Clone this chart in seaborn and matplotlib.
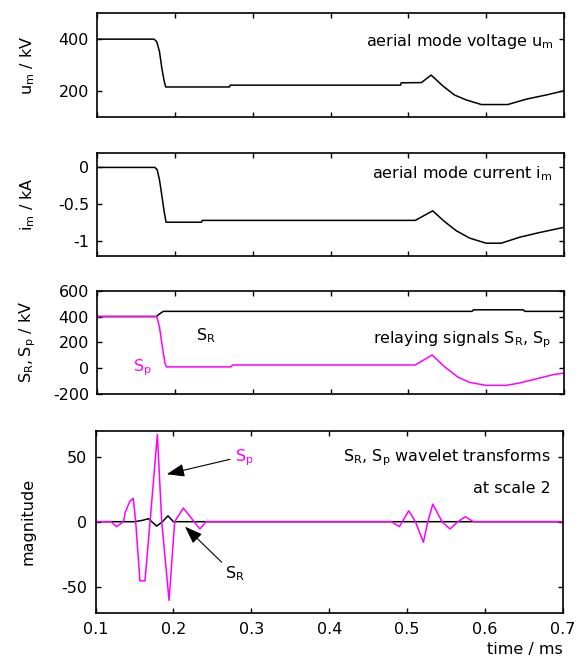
import matplotlib
matplotlib.use("Agg")
import matplotlib.pyplot as plt
import seaborn as sns
import pandas as pd

# aerial mode voltage u_m (kV)
um_t = [0.100, 0.173, 0.1765, 0.180, 0.183, 0.186, 0.188, 0.270, 0.271, 0.490, 0.491,
        0.517, 0.5295, 0.5445, 0.5595, 0.5745, 0.594, 0.628, 0.652, 0.6775, 0.700]
um_v = [400, 400, 390, 352, 288, 238, 215, 215, 222, 222, 231,
        232, 261, 219, 184, 165, 147, 147, 168, 184, 200]

# aerial mode current i_m (kA)
im_t = [0.100, 0.174, 0.177, 0.180, 0.183, 0.186, 0.1885, 0.234, 0.235, 0.509,
        0.5315, 0.546, 0.5617, 0.5788, 0.600, 0.6196, 0.643, 0.669, 0.700]
im_v = [0, 0, -0.03, -0.17, -0.38, -0.60, -0.745, -0.745, -0.72, -0.72,
        -0.59, -0.73, -0.86, -0.96, -1.03, -1.03, -0.95, -0.885, -0.815]

# relaying signals S_R and S_p (kV)
sr_t = [0.100, 0.176, 0.180, 0.185, 0.582, 0.584, 0.648, 0.650, 0.700]
sr_v = [400, 400, 420, 440, 440, 452, 452, 440, 440]
sp_t = [0.100, 0.1764, 0.180, 0.1837, 0.187, 0.189, 0.272, 0.274, 0.509, 0.5308,
        0.5466, 0.5638, 0.5788, 0.600, 0.626, 0.643, 0.660, 0.686, 0.700]
sp_v = [400, 400, 318, 165, 38, 10, 10, 25, 25, 102,
        12, -69, -110, -133, -133, -115, -90, -51, -38]

# wavelet transforms at scale 2
wsp_t = [0.100, 0.120, 0.127, 0.136, 0.138, 0.1443, 0.1485, 0.1516, 0.157, 0.1635,
         0.170, 0.1794, 0.185, 0.1944, 0.2016, 0.2127, 0.224, 0.234, 0.242, 0.480,
         0.490, 0.502, 0.5106, 0.5208, 0.5265, 0.5329, 0.5448, 0.555, 0.565, 0.5747,
         0.585, 0.700]
wsp_v = [0, 0, -3.8, 0, 7, 16, 18, 0, -45.5, -45.5,
         0, 67, 0, -60.5, 0, 10.5, 2, -5.6, 0, 0,
         -3.8, 8.4, 0, -15.8, 0, 13.5, 0, -5.6, 0, 3.8,
         0, 0]
wsr_t = [0.100, 0.150, 0.160, 0.168, 0.1785, 0.186, 0.193, 0.200, 0.700]
wsr_v = [0, 0, 1, 2.3, -3.4, 0, 4.5, 0, 0]

x_ticks = [0.1, 0.2, 0.3, 0.4, 0.5, 0.6, 0.7]
x_ticklabels = ["0.1", "0.2", "0.3", "0.4", "0.5", "0.6", "0.7"]

MAGENTA = "#ff00ff"
W, H = 579, 664

sns.set_style("ticks")
plt.rcParams.update({
    "font.family": ["DejaVu Sans"],
    "font.size": 11.5,
    "mathtext.default": "regular",
    "axes.unicode_minus": False,
    "axes.linewidth": 1.2,
    "axes.edgecolor": "black",
    "xtick.direction": "in",
    "ytick.direction": "in",
    "xtick.major.size": 3.5,
    "ytick.major.size": 3.5,
    "xtick.major.width": 1.0,
    "ytick.major.width": 1.0,
    "xtick.major.pad": 7,
    "ytick.major.pad": 6,
    "xtick.color": "black",
    "ytick.color": "black",
    "text.color": "black",
    "axes.labelcolor": "black",
})

fig = plt.figure(figsize=(W / 100, H / 100), dpi=100)


def px_axes(left, top, right, bottom):
    return fig.add_axes([left / W, 1 - bottom / H, (right - left) / W, (bottom - top) / H])


ax1 = px_axes(97.3, 13.3, 563.7, 116.7)
ax2 = px_axes(97.3, 152.7, 563.7, 255.7)
ax3 = px_axes(97.3, 290.7, 563.7, 394.0)
ax4 = px_axes(95.5, 430.7, 563.0, 612.7)

lw = 1.1
sns.lineplot(data=pd.DataFrame({"t": um_t, "v": um_v}), x="t", y="v", ax=ax1,
             color="black", lw=lw, sort=False)
sns.lineplot(data=pd.DataFrame({"t": im_t, "v": im_v}), x="t", y="v", ax=ax2,
             color="black", lw=lw, sort=False)
sns.lineplot(data=pd.DataFrame({"t": sr_t, "v": sr_v}), x="t", y="v", ax=ax3,
             color="black", lw=lw, sort=False)
sns.lineplot(data=pd.DataFrame({"t": sp_t, "v": sp_v}), x="t", y="v", ax=ax3,
             color=MAGENTA, lw=lw, sort=False)
sns.lineplot(data=pd.DataFrame({"t": wsr_t, "v": wsr_v}), x="t", y="v", ax=ax4,
             color="black", lw=lw, sort=False)
sns.lineplot(data=pd.DataFrame({"t": wsp_t, "v": wsp_v}), x="t", y="v", ax=ax4,
             color=MAGENTA, lw=lw, sort=False)

ylims = [(100, 500), (-1.2, 0.2), (-200, 600), (-70, 70)]
yticks = [[200, 400], [-1, -0.5, 0], [-200, 0, 200, 400, 600], [-50, 0, 50]]
yticklabels = [["200", "400"], ["-1", "-0.5", "0"],
               ["-200", "0", "200", "400", "600"], ["-50", "0", "50"]]
ylabels = ["$u_m$ / kV", "$i_m$ / kA", "$S_R, S_p$ / kV", "magnitude"]

for ax, yl, yt, ytl, lab in zip([ax1, ax2, ax3, ax4], ylims, yticks, yticklabels, ylabels):
    ax.set_xlim(0.1, 0.7)
    ax.set_ylim(*yl)
    ax.set_yticks(yt)
    ax.set_yticklabels(ytl)
    ax.set_xticks(x_ticks)
    ax.tick_params(top=True, right=True, labelbottom=False)
    for s in ax.spines.values():
        s.set_visible(True)
        s.set_linewidth(1.2)
    ax.set_xlabel("")
    ax.set_ylabel(lab, va="center", rotation_mode="anchor")
    bb = ax.get_position()
    ax.yaxis.set_label_coords((28 / W - bb.x0) / bb.width, 0.5)

ax4.tick_params(labelbottom=True)
ax4.set_xticklabels(x_ticklabels)
ax4.set_xlabel("time / ms", loc="right", labelpad=3)

# panel captions
ax1.text(0.979, 0.679, "aerial mode voltage $u_m$", transform=ax1.transAxes,
         ha="right", va="baseline")
ax2.text(0.976, 0.751, "aerial mode current $i_m$", transform=ax2.transAxes,
         ha="right", va="baseline")
ax3.text(0.973, 0.491, "relaying signals $S_R$, $S_p$", transform=ax3.transAxes,
         ha="right", va="baseline")
ax3.text(0.227, 215, "$S_R$", ha="left", va="baseline")
ax3.text(0.146, -26, "$S_p$", ha="left", va="baseline", color=MAGENTA)
ax4.text(0.974, 0.83, "$S_R$, $S_p$ wavelet transforms", transform=ax4.transAxes,
         ha="right", va="baseline")
ax4.text(0.974, 0.656, "at scale 2", transform=ax4.transAxes,
         ha="right", va="baseline")

# arrows pointing to the two transforms
arrow = dict(arrowstyle="-|>,head_length=0.6,head_width=0.22", color="black",
             lw=0.8, mutation_scale=18, shrinkA=0, shrinkB=0)
ax4.annotate("", xy=(0.1914, 36.5), xytext=(0.2727, 48), arrowprops=arrow)
ax4.annotate("", xy=(0.2149, -3.8), xytext=(0.262, -31.2), arrowprops=arrow)
ax4.text(0.2787, 46.7, "$S_p$", ha="left", va="baseline", color=MAGENTA)
ax4.text(0.2658, -43.9, "$S_R$", ha="left", va="baseline")

fig.savefig("out.png", dpi=100)
